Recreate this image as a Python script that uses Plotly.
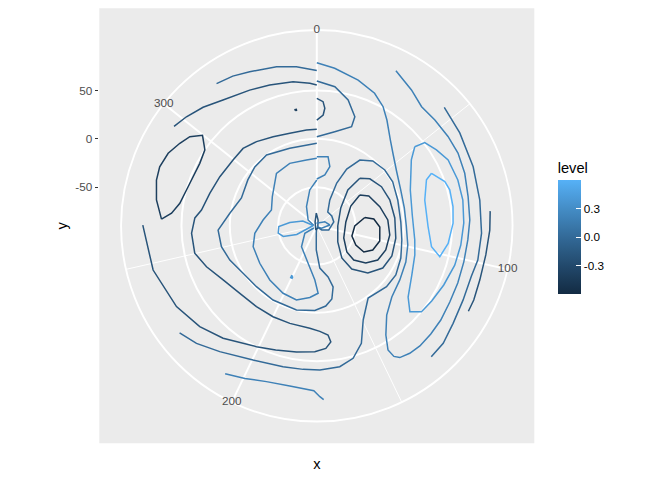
import plotly.graph_objects as go

# ---------------- data (x = lon 0..350, y = lat -90..90) ----------------
levels = [-0.6, -0.4, -0.2, 0.0, 0.2, 0.4, 0.6]
x_breaks = [0, 100, 200, 300]
x_minor = [50, 150, 250]
y_breaks = [-50, 0, 50]
x_max = 350
y_min, y_max = -90, 90
legend_breaks = [-0.3, 0.0, 0.3]

l1_lon = [315.8, 321.5, 327.1, 336.2, 342.9, 350]
l1_lat = [90, 87.6, 83.8, 79.8, 75.9, 70.7]

l2_lon = [296.4, 301.3, 307.4, 314.3, 324.4, 332.0, 340.9, 347.3, 350]
l2_lat = [90, 85.8, 79.9, 72.3, 66.6, 63.5, 61.0, 57.6, 55.7]

dot_lon = [339.7, 340.3, 340.3, 339.7, 339.7]
dot_lat = [31.3, 31.3, 32.3, 32.3, 31.3]

dl_lon = [264.9, 271.4, 278.0, 282.5, 287.8, 292.7, 296.6, 299.8, 295.7, 289.8, 280.5, 271.6, 267.3, 264.9]
dl_lat = [70.8, 78.0, 82.5, 83.6, 81.1, 75.4, 70.5, 60.8, 49.9, 47.2, 48.5, 53.6, 60.8, 70.8]

l3_lon = [350, 344.0, 334.2, 324.6, 315.4, 307.6, 299.6, 288.6, 278.9, 270.1, 266.1, 259.2, 250.2, 242.7,
          233.3, 222.4, 210.7, 200.0, 190.0, 178.8, 173.4, 169.3, 168.3, 170.9, 175.9, 183.9, 192.8, 200.8,
          213.7, 222.9, 233.4, 247.8, 262.7]
l3_lat = [9.8, 9.7, 9.7, 12.6, 17.1, 20.6, 20.2, 22.4, 25.7, 30.4, 36.4, 39.8, 39.4, 31.7,
          21.9, 15.9, 14.4, 14.4, 14.7, 16.2, 19.3, 23.6, 31.0, 37.2, 40.2, 42.2, 45.3, 49.8,
          61.4, 69.8, 77.5, 85.4, 90]

m2_lon = [350, 331.3, 315.6, 304.8, 295.2, 282.2, 270.5, 260.1, 250.5, 241.6, 230.6, 218.5, 204.7, 188.2,
          176.3, 168.8, 163.7, 160.5, 162.9, 171.0, 176.2, 178.9, 180]
m2_lat = [-4.7, -5.1, -0.2, -1.6, -4.3, -6.9, 0.9, 12.2, 11.0, 6.7, 0.7, -1.3, -0.9, -0.4,
          -2.4, -6.5, -12.7, -24.5, -35.8, -46.2, -65.0, -82.5, -88]

m3_lon = [227, 231.4, 210.2, 187.7, 177.0, 173.9, 180.4, 189.9, 200.8, 214.8, 230.1, 244.8, 255.8, 268.5,
          281.2, 294.8, 313.5, 327.2, 341.3, 350]
m3_lat = [-86.2, -75.4, -63.2, -50.2, -33.9, -20.2, -15.5, -10.4, -12.0, -15.8, -19.4, -20.7, -25.4, -34.1,
          -40.3, -35.0, -21.5, -19.6, -21.1, -20.2]

m1b_lon = [350, 339.2, 322.5, 295.3, 268]
m1b_lat = [-42.6, -52.2, -67.5, -79.2, -86.9]

petal_lon = [267.3, 280.9, 269.3, 261.5, 252.2, 245.3, 239.7, 267.3]
petal_lat = [-86.4, -74.7, -61.9, -50.7, -49.4, -53.6, -67.4, -86.4]

thin_lon = [347.8, 12.3, 151.3, 188.0, 326.6, 347.8]
thin_lat = [-76.8, -83.9, -87.5, -85.5, -85.7, -76.8]

rp_lon = [343, 61.2, 84.1, 114.7, 180]
rp_lat = [-87.4, -80.7, -76.5, -84.5, -89]

ld_lon = [199.5, 201.0, 201.0, 199.5, 199.5]
ld_lat = [-32.0, -32.0, -30.0, -30.0, -32.0]

d1_lon = [78.0, 80.9, 88.6, 100.7, 110.3, 115.8, 113.0, 103.2, 87.8, 78.0]
d1_lat = [-39.6, -30.6, -24.8, -23.0, -26.9, -34.3, -45.0, -52.2, -50.7, -39.6]

d2_lon = [52.9, 58.5, 71.1, 82.9, 94.5, 106.3, 116.0, 123.7, 129.1, 127.4, 111.1, 80.2, 58.1, 52.9]
d2_lat = [-35.3, -28.0, -21.9, -16.3, -13.9, -14.4, -17.7, -26.4, -37.9, -48.8, -59.4, -59.7, -49.3, -35.3]

d3_lon = [41.0, 47.1, 57.2, 68.5, 81.9, 96.1, 108.8, 119.2, 129.1, 137.1, 138.2, 124.1, 88.0, 51.9, 39.8, 41.0]
d3_lat = [-23.7, -16.7, -11.8, -9.9, -8.9, -7.3, -6.3, -9.0, -18.1, -32.5, -47.8, -62.6, -68.3, -59.1, -41.0, -23.7]

d4_lon = [225.6, 219.4, 211.6, 199.7, 188.1, 180.3, 173.8, 166.0, 160.1, 154.8, 149.5, 140.6, 127.5, 118.5,
          107.9, 96.7, 85.0, 70.3, 58.3, 49.2, 39.7, 32.3, 27.0, 24.3, 26.0, 37.5, 55.2, 75.3, 106.3, 126.4, 150]
d4_lat = [90, 84.0, 74.4, 63.7, 59.9, 59.2, 59.2, 57.7, 52.1, 40.0, 18.6, 1.7, 5.8, 6.3,
          3.1, -0.8, -3.0, -2.1, 0.7, 1.0, -1.4, -8.7, -23.6, -41.2, -60.1, -71.8, -71.5, -72.0, -76.9, -83.3, -88.5]

la_lon = [0, 6.3, 15.4, 22.9, 28.3, 32.6, 39.5, 45.9, 54.5, 65.0, 76.3, 87.6, 99.1, 109.0, 119.7, 129.8,
          138.0, 143.6, 146.0, 145.3, 143.7, 139.9, 135.5, 129.8, 123.7, 116.5, 109.0, 100.9, 92.7, 85.4,
          76.9, 68.5, 61.0, 54.2, 46.8, 40.2, 33.9, 26.3]
la_lat = [78.7, 74.0, 66.7, 59.6, 51.0, 41.3, 26.9, 17.8, 9.7, 4.4, 2.4, 2.6, 6.2, 9.4, 12.5, 17.0,
          27.3, 43.7, 58.1, 66.9, 71.1, 73.2, 73.8, 72.6, 71.1, 68.6, 67.4, 66.6, 66.9, 68.4,
          69.4, 72.4, 74.3, 74.2, 74.0, 74.1, 81.3, 90]

lo_lon = [49.7, 50.9, 56.0, 61.6, 70.0, 77.8, 86.4, 94.9, 103.0, 111.8, 119.8, 125.8, 129.0, 124.4, 114.1,
          103.6, 95.5, 81.2, 67.1, 53.6, 49.7]
lo_lat = [40.2, 51.0, 56.6, 62.0, 63.4, 63.4, 62.1, 60.3, 58.4, 54.9, 52.1, 50.1, 41.0, 29.8, 20.7,
          15.8, 12.4, 9.4, 13.6, 29.2, 40.2]

li_lon = [63.6, 65.4, 74.5, 87.9, 97.5, 101.2, 94.9, 86.4, 79.7, 72.8, 69.0, 63.6]
li_lat = [40.5, 33.0, 24.8, 25.1, 30.6, 41.2, 47.1, 51.0, 52.3, 52.5, 50.1, 40.5]

o2_lon = [45.8, 55.4, 67.4, 78.8, 90.0, 99.2, 105.0, 113.7, 122.1, 129.2, 135.0]
o2_lat = [90, 86.4, 82.9, 80.7, 80.6, 80.3, 78.2, 79.7, 83.4, 88.5, 90]

o1_lon = [82.8, 88.9, 97.0, 105.4, 112.1, 116.1]
o1_lat = [90, 89.0, 87.4, 87.7, 89.6, 90]

bg_lon = [0, 7.2, 13.6, 18.7, 18.8, 10.5, 0]
bg_lat = [59.8, 55.1, 44.1, 29.5, 18.6, 9.1, 2.2]

bp_lon = [0, 2.8, 3.8, 3.2, 0]
bp_lat = [41.9, 38.6, 31.9, 24.8, 19.4]

sl_lon = [0, 9.0, 12.1, 8.7, 0]
sl_lat = [-18.5, -17.6, -27.4, -36.8, -41.6]

ob_lon = [205.9, 199.5, 192.4, 184.3, 176.0, 174.0, 172.8]
ob_lat = [90, 84.6, 79.4, 78.1, 80.6, 86.8, 90]

contours = [
    (l1_lon, l1_lat, 0.0), (l2_lon, l2_lat, -0.2), (dot_lon, dot_lat, -0.4), (dl_lon, dl_lat, -0.4),
    (l3_lon, l3_lat, -0.2), (m2_lon, m2_lat, 0.0), (m3_lon, m3_lat, 0.2), (m1b_lon, m1b_lat, 0.2),
    (petal_lon, petal_lat, 0.4), (thin_lon, thin_lat, -0.2), (rp_lon, rp_lat, 0.2), (ld_lon, ld_lat, 0.4),
    (d1_lon, d1_lat, -0.6), (d2_lon, d2_lat, -0.4), (d3_lon, d3_lat, -0.2), (d4_lon, d4_lat, 0.0),
    (la_lon, la_lat, 0.2), (lo_lon, lo_lat, 0.4), (li_lon, li_lat, 0.6), (o2_lon, o2_lat, 0.0),
    (o1_lon, o1_lat, -0.2), (bg_lon, bg_lat, 0.0), (bp_lon, bp_lat, -0.2), (sl_lon, sl_lat, 0.2),
    (ob_lon, ob_lat, 0.2),
]

# ---------------- colour scale (ggplot default gradient, Lab interpolation) ----------------
LOW, HIGH = "#132B43", "#56B1F7"


def _lin(c):
    c = c / 255
    return c / 12.92 if c <= 0.04045 else ((c + 0.055) / 1.055) ** 2.4


def _gam(c):
    c = 12.92 * c if c <= 0.0031308 else 1.055 * c ** (1 / 2.4) - 0.055
    return max(0, min(255, round(c * 255)))


def _f(t):
    return t ** (1 / 3) if t > 216 / 24389 else (24389 / 27 * t + 16) / 116


def _finv(t):
    return t ** 3 if t ** 3 > 216 / 24389 else (116 * t - 16) / (24389 / 27)


def hex2lab(h):
    r, g, b = (_lin(int(h[i:i + 2], 16)) for i in (1, 3, 5))
    X = (0.4124564 * r + 0.3575761 * g + 0.1804375 * b) / 0.95047
    Y = 0.2126729 * r + 0.7151522 * g + 0.0721750 * b
    Z = (0.0193339 * r + 0.1191920 * g + 0.9503041 * b) / 1.08883
    fx_, fy_, fz_ = _f(X), _f(Y), _f(Z)
    return 116 * fy_ - 16, 500 * (fx_ - fy_), 200 * (fy_ - fz_)


def lab2hex(L, a, b):
    fy_ = (L + 16) / 116
    fx_, fz_ = fy_ + a / 500, fy_ - b / 200
    X, Y, Z = _finv(fx_) * 0.95047, _finv(fy_), _finv(fz_) * 1.08883
    r = 3.2404542 * X - 1.5371385 * Y - 0.4985314 * Z
    g = -0.9692660 * X + 1.8760108 * Y + 0.0415560 * Z
    bb = 0.0556434 * X - 0.2040259 * Y + 1.0572252 * Z
    return "#%02x%02x%02x" % tuple(_gam(max(0.0, c)) for c in (r, g, bb))


LAB_LO, LAB_HI = hex2lab(LOW), hex2lab(HIGH)


def grad(t):
    return lab2hex(*[lo + (hi - lo) * t for lo, hi in zip(LAB_LO, LAB_HI)])


cmin, cmax = min(levels), max(levels)
colorscale = [[i / 20, grad(i / 20)] for i in range(21)]


def theta(lons):
    return [v * 360 / x_max for v in lons]


# ---------------- page geometry (page body has an 8px margin) ----------------
OFF, W, H = 8, 664, 472


def fx(p):
    return (p - OFF) / W


def fy(p):
    return 1 - (p - OFF) / H


FONT = "Liberation Sans, Arial, sans-serif"
r_outer = y_min + (y_max - y_min) * 0.45 / 0.4   # ggplot draws the outer ring at 0.45

fig = go.Figure()

for t in x_minor:
    fig.add_trace(go.Scatterpolar(r=[y_min, r_outer], theta=theta([t, t]), mode="lines",
                                  line=dict(color="white", width=0.95), hoverinfo="skip",
                                  showlegend=False))

for lon, lat, lev in contours:
    fig.add_trace(go.Scatterpolar(r=lat, theta=theta(lon), mode="lines",
                                  line=dict(color=grad((lev - cmin) / (cmax - cmin)), width=1.5),
                                  showlegend=False, hoverinfo="skip"))

# colour bar carrier (invisible markers)
fig.add_trace(go.Scatterpolar(
    r=li_lat, theta=theta(li_lon), mode="markers",
    marker=dict(size=0, opacity=0, color=[0.6] * len(li_lat), cmin=cmin, cmax=cmax,
                colorscale=colorscale, showscale=True,
                colorbar=dict(title=dict(text="level", side="top",
                                         font=dict(size=14.67, color="black", family=FONT)),
                              x=fx(557.7), xanchor="left", xpad=0,
                              y=fy(294), yanchor="bottom", ypad=0,
                              len=135, lenmode="pixels", thickness=23, thicknessmode="pixels",
                              outlinewidth=0, tickvals=legend_breaks,
                              ticktext=["%.1f" % v for v in legend_breaks],
                              ticks="inside", ticklen=4.6, tickcolor="white", tickwidth=1,
                              tickfont=dict(size=11.73, color="black", family=FONT))),
    showlegend=False, hoverinfo="skip"))

# theta tick labels, centred on the 0.45 ring like ggplot
fig.add_trace(go.Scatterpolar(r=[r_outer] * len(x_breaks), theta=theta(x_breaks), mode="text",
                              text=[str(v) for v in x_breaks], textposition="middle center",
                              textfont=dict(size=11.73, color="#4D4D4D", family=FONT),
                              cliponaxis=False, showlegend=False, hoverinfo="skip"))

# cartesian carrier for the left r-axis and axis titles
fig.add_trace(go.Scatter(x=[None], y=[None], showlegend=False, hoverinfo="skip"))

px0, px1, py0, py1 = 99.3, 534.3, 8.3, 443.3
cx, cy, R = (px0 + px1) / 2, 225.8, 195.75
fig.update_layout(
    width=W, height=H, autosize=False,
    margin=dict(l=0, r=0, t=0, b=0),
    paper_bgcolor="white", plot_bgcolor="rgba(0,0,0,0)",
    font=dict(family=FONT),
    shapes=[dict(type="rect", xref="paper", yref="paper", x0=fx(px0), x1=fx(px1),
                 y0=fy(py1), y1=fy(py0), fillcolor="#EBEBEB",
                 line=dict(width=0), layer="below")],
    polar=dict(
        domain=dict(x=[fx(cx - R), fx(cx + R)], y=[fy(cy + R), fy(cy - R)]),
        bgcolor="#EBEBEB",
        angularaxis=dict(rotation=90, direction="clockwise", tickvals=theta(x_breaks),
                         showticklabels=False, ticks="", showgrid=True, gridcolor="white",
                         gridwidth=1.9, showline=True, linecolor="white", linewidth=1.9,
                         layer="below traces"),
        radialaxis=dict(range=[y_min, r_outer], tickvals=y_breaks, showticklabels=False, ticks="",
                        showgrid=True, gridcolor="white", gridwidth=1.9, showline=False,
                        layer="below traces"),
    ),
    xaxis=dict(domain=[fx(px0), fx(px1)], range=[0, 1], showgrid=False, zeroline=False,
               showticklabels=False, ticks="", showline=False, fixedrange=True, automargin=False,
               title=dict(text="x", font=dict(size=14.67, color="black", family=FONT), standoff=15)),
    yaxis=dict(domain=[fy(py1), fy(py0)],
               range=[y_min - (py1 - cy) / 0.96667, y_min + (cy - py0) / 0.96667],
               tickvals=y_breaks, ticktext=[str(v) for v in y_breaks], ticks="outside",
               ticklen=3.67, tickwidth=1.07, tickcolor="#333333",
               tickfont=dict(size=11.73, color="#4D4D4D", family=FONT),
               showgrid=False, zeroline=False, showline=False, fixedrange=True, automargin=False,
               title=dict(text="y", font=dict(size=14.67, color="black", family=FONT), standoff=4)),
)

fig.write_html("out.html")
